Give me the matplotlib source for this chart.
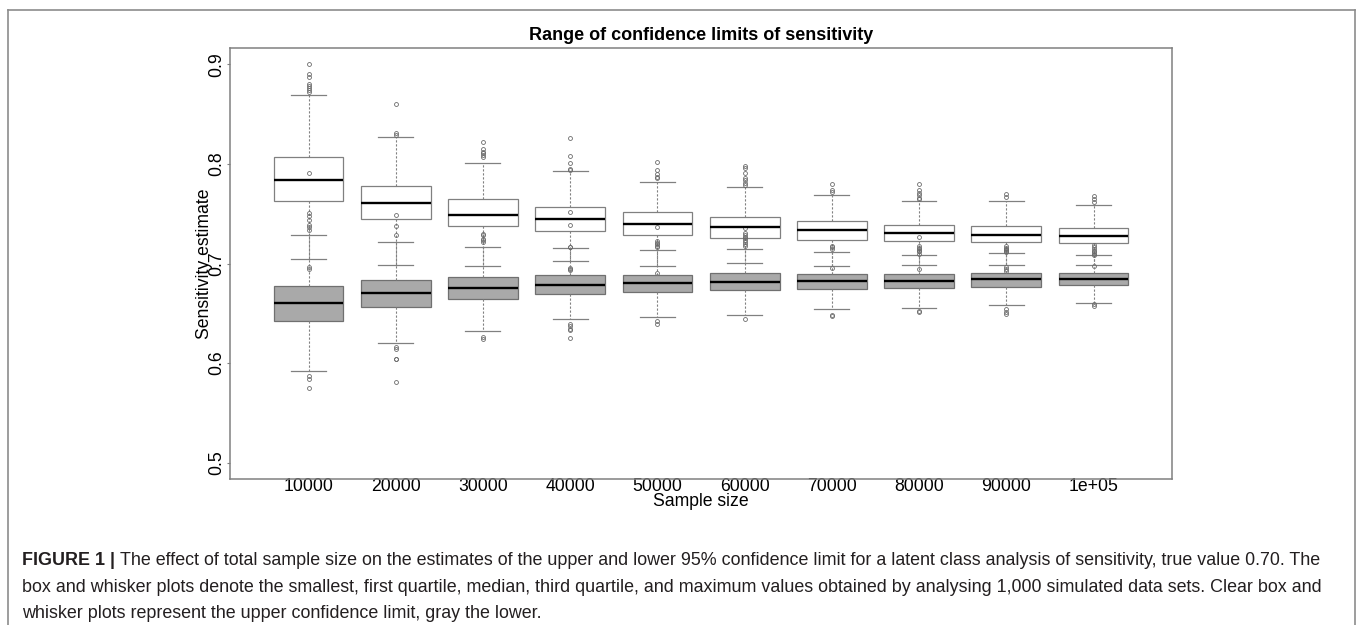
import matplotlib
matplotlib.use("Agg")
import matplotlib.pyplot as plt
from matplotlib.lines import Line2D

plt.rcParams["font.family"] = ["Liberation Sans", "DejaVu Sans"]

sample_sizes = ["10000", "20000", "30000", "40000", "50000",
                "60000", "70000", "80000", "90000", "1e+05"]

# upper 95% confidence limit (clear boxes)
upper_whislo = [0.7042, 0.6983, 0.6977, 0.7025, 0.6970, 0.7002, 0.6975, 0.6985, 0.6983, 0.6983]
upper_q1 = [0.7630, 0.7446, 0.7372, 0.7328, 0.7288, 0.7255, 0.7241, 0.7221, 0.7214, 0.7201]
upper_med = [0.7834, 0.7610, 0.7492, 0.7442, 0.7399, 0.7362, 0.7338, 0.7308, 0.7291, 0.7278]
upper_q3 = [0.8065, 0.7774, 0.7643, 0.7570, 0.7513, 0.7469, 0.7425, 0.7385, 0.7379, 0.7358]
upper_whishi = [0.8690, 0.8266, 0.8012, 0.7928, 0.7817, 0.7764, 0.7683, 0.7626, 0.7623, 0.7583]
upper_fliers = [
    [0.900, 0.890, 0.887, 0.880, 0.878, 0.876, 0.874, 0.872, 0.6968, 0.6946],
    [0.860, 0.8307, 0.829],
    [0.8216, 0.8146, 0.8122, 0.8106, 0.8085, 0.8072],
    [0.8256, 0.8082, 0.8008, 0.7945, 0.7938, 0.6950, 0.6946, 0.6933],
    [0.8015, 0.7941, 0.7898, 0.7870, 0.7854, 0.6906],
    [0.7978, 0.7955, 0.7905, 0.7861, 0.7838, 0.7804, 0.7787],
    [0.7794, 0.7737, 0.7717, 0.6953],
    [0.7801, 0.7734, 0.7711, 0.7683, 0.7660, 0.7643, 0.6943],
    [0.7693, 0.7670, 0.6960, 0.6940, 0.6920],
    [0.7677, 0.7650, 0.7620, 0.6970],
]

# lower 95% confidence limit (gray boxes)
lower_whislo = [0.5921, 0.6200, 0.6320, 0.6441, 0.6461, 0.6481, 0.6548, 0.6551, 0.6581, 0.6601]
lower_q1 = [0.6427, 0.6564, 0.6642, 0.6692, 0.6712, 0.6729, 0.6745, 0.6752, 0.6769, 0.6782]
lower_med = [0.6605, 0.6700, 0.6749, 0.6786, 0.6806, 0.6812, 0.6822, 0.6826, 0.6843, 0.6843]
lower_q3 = [0.6772, 0.6836, 0.6863, 0.6883, 0.6886, 0.6903, 0.6896, 0.6893, 0.6903, 0.6903]
lower_whishi = [0.7286, 0.7218, 0.7161, 0.7154, 0.7140, 0.7144, 0.7114, 0.7090, 0.7104, 0.7081]
lower_fliers = [
    [0.7906, 0.7504, 0.7480, 0.7437, 0.7386, 0.7363, 0.7336, 0.5870, 0.5844, 0.5747],
    [0.7486, 0.7379, 0.7288, 0.6166, 0.6139, 0.6045, 0.6039, 0.5814],
    [0.7301, 0.7285, 0.7251, 0.7235, 0.7218, 0.6260, 0.6246],
    [0.7513, 0.7382, 0.7170, 0.7167, 0.6394, 0.6370, 0.6347, 0.6330, 0.6256],
    [0.7365, 0.7228, 0.7210, 0.7195, 0.7180, 0.7167, 0.6424, 0.6394],
    [0.7352, 0.7302, 0.7285, 0.7268, 0.7252, 0.7235, 0.7215, 0.7200, 0.7178, 0.6441],
    [0.7174, 0.7161, 0.7141, 0.6487, 0.6474],
    [0.7265, 0.7174, 0.7160, 0.7145, 0.7130, 0.7121, 0.7097, 0.6528, 0.6508],
    [0.7174, 0.7160, 0.7150, 0.7140, 0.7127, 0.7115, 0.6541, 0.6514, 0.6491],
    [0.7188, 0.7165, 0.7150, 0.7130, 0.7120, 0.7100, 0.7087, 0.6591, 0.6575],
]

caption_lines = [
    "The effect of total sample size on the estimates of the upper and lower 95% confidence "
    "limit for a latent class analysis of sensitivity, true value 0.70. The",
    "box and whisker plots denote the smallest, first quartile, median, third quartile, and "
    "maximum values obtained by analysing 1,000 simulated data sets. Clear box and",
    "whisker plots represent the upper confidence limit, gray the lower.",
]


def make_stats(lo, q1, med, q3, hi, fliers):
    return [dict(whislo=a, q1=b, med=c, q3=d, whishi=e, fliers=f)
            for a, b, c, d, e, f in zip(lo, q1, med, q3, hi, fliers)]


W, H = 1357, 625
fig = plt.figure(figsize=(W / 100, H / 100), dpi=100)
ax = fig.add_axes([230 / W, 1 - 479 / H, (1172 - 230) / W, (479 - 48) / H])

edge = "#808080"
positions = list(range(1, len(sample_sizes) + 1))
common = dict(
    positions=positions, widths=0.8, capwidths=0.4, patch_artist=True,
    whiskerprops=dict(color=edge, lw=0.8, linestyle=(0, (2, 1.6))),
    capprops=dict(color=edge, lw=0.9),
    medianprops=dict(color="black", lw=1.7),
    flierprops=dict(marker="o", markerfacecolor="none", markeredgecolor="#6a6a6a",
                    markersize=2.8, markeredgewidth=0.6, linestyle="none"),
)
ax.bxp(make_stats(upper_whislo, upper_q1, upper_med, upper_q3, upper_whishi, upper_fliers),
       boxprops=dict(facecolor="white", edgecolor=edge, lw=0.9), **common)
ax.bxp(make_stats(lower_whislo, lower_q1, lower_med, lower_q3, lower_whishi, lower_fliers),
       boxprops=dict(facecolor="#a9a9a9", edgecolor="#707070", lw=0.9), **common)

ax.set_xlim(0.1, 10.9)
ax.set_ylim(0.4836, 0.9164)
ax.set_xticks(positions)
ax.set_xticklabels(sample_sizes, fontsize=12.7)
ax.tick_params(axis="x", length=0, pad=-1)
ax.set_yticks([0.5, 0.6, 0.7, 0.8, 0.9])
ax.set_yticklabels(["0.5", "0.6", "0.7", "0.8", "0.9"], fontsize=12.7,
                   rotation=90, va="center")
ax.tick_params(axis="y", length=2.4, width=0.8, color=edge, pad=1)
for sp in ax.spines.values():
    sp.set_color(edge)
    sp.set_linewidth(1.1)

ax.set_xlabel("Sample size", fontsize=12.7)
ax.xaxis.set_label_coords(0.5, -0.033)
ax.set_ylabel("Sensitivity estimate", fontsize=12.7)
ax.yaxis.set_label_coords(-0.018, 0.5)
ax.set_title("Range of confidence limits of sensitivity", fontsize=13, fontweight="bold", pad=6)

# outer frame of the figure panel
for xs, ys in [((8, 1355), (9.7, 9.7)), ((8, 8), (9.7, 630)), ((1355, 1355), (9.7, 630))]:
    fig.add_artist(Line2D([x / W for x in xs], [1 - y / H for y in ys],
                          color="#8c8c8c", lw=1.2))

# caption
txt_color = "#231f20"
cap_size = 12.85
baselines = [565, 591.7, 618.3]
bold = fig.text(22.5 / W, 1 - baselines[0] / H, "FIGURE 1 | ", fontsize=cap_size,
                fontweight="bold", color=txt_color, va="baseline")
fig.canvas.draw()
bb = bold.get_window_extent()
fig.text(bb.x1 / W, 1 - baselines[0] / H, caption_lines[0], fontsize=cap_size,
         color=txt_color, va="baseline")
for line, yb in zip(caption_lines[1:], baselines[1:]):
    fig.text(22.5 / W, 1 - yb / H, line, fontsize=cap_size, color=txt_color, va="baseline")

fig.savefig("out.png", dpi=100)
